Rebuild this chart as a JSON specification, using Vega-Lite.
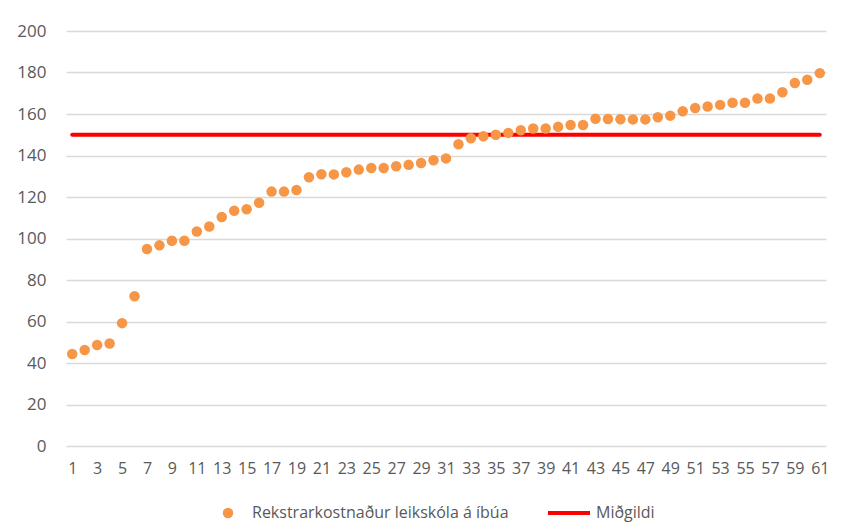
{
  "$schema": "https://vega.github.io/schema/vega-lite/v6.json",
  "width": 760,
  "height": 415,
  "autosize": {"type": "none"},
  "padding": {"left": 66, "top": 31, "right": 20, "bottom": 79},
  "background": "#FFFFFF",
  "config": {
    "view": {"stroke": null},
    "font": "Open Sans",
    "axis": {"labelFont": "Open Sans", "labelColor": "#595959", "labelFontSize": 16},
    "legend": {"labelFont": "Open Sans", "labelColor": "#595959", "labelFontSize": 16, "labelLimit": 500}
  },
  "data": {
    "values": [
      {"n": 1, "kostn": 44.3, "midgildi": 150},
      {"n": 2, "kostn": 46.3, "midgildi": 150},
      {"n": 3, "kostn": 48.7, "midgildi": 150},
      {"n": 4, "kostn": 49.4, "midgildi": 150},
      {"n": 5, "kostn": 59.2, "midgildi": 150},
      {"n": 6, "kostn": 72.2, "midgildi": 150},
      {"n": 7, "kostn": 94.9, "midgildi": 150},
      {"n": 8, "kostn": 96.7, "midgildi": 150},
      {"n": 9, "kostn": 98.9, "midgildi": 150},
      {"n": 10, "kostn": 98.9, "midgildi": 150},
      {"n": 11, "kostn": 103.4, "midgildi": 150},
      {"n": 12, "kostn": 105.8, "midgildi": 150},
      {"n": 13, "kostn": 110.4, "midgildi": 150},
      {"n": 14, "kostn": 113.4, "midgildi": 150},
      {"n": 15, "kostn": 114.1, "midgildi": 150},
      {"n": 16, "kostn": 117.2, "midgildi": 150},
      {"n": 17, "kostn": 122.6, "midgildi": 150},
      {"n": 18, "kostn": 122.6, "midgildi": 150},
      {"n": 19, "kostn": 123.4, "midgildi": 150},
      {"n": 20, "kostn": 129.5, "midgildi": 150},
      {"n": 21, "kostn": 131.0, "midgildi": 150},
      {"n": 22, "kostn": 130.9, "midgildi": 150},
      {"n": 23, "kostn": 131.9, "midgildi": 150},
      {"n": 24, "kostn": 133.2, "midgildi": 150},
      {"n": 25, "kostn": 134.0, "midgildi": 150},
      {"n": 26, "kostn": 134.0, "midgildi": 150},
      {"n": 27, "kostn": 134.8, "midgildi": 150},
      {"n": 28, "kostn": 135.5, "midgildi": 150},
      {"n": 29, "kostn": 136.4, "midgildi": 150},
      {"n": 30, "kostn": 137.7, "midgildi": 150},
      {"n": 31, "kostn": 138.6, "midgildi": 150},
      {"n": 32, "kostn": 145.4, "midgildi": 150},
      {"n": 33, "kostn": 148.3, "midgildi": 150},
      {"n": 34, "kostn": 149.3, "midgildi": 150},
      {"n": 35, "kostn": 150.0, "midgildi": 150},
      {"n": 36, "kostn": 150.9, "midgildi": 150},
      {"n": 37, "kostn": 152.2, "midgildi": 150},
      {"n": 38, "kostn": 153.0, "midgildi": 150},
      {"n": 39, "kostn": 153.0, "midgildi": 150},
      {"n": 40, "kostn": 153.8, "midgildi": 150},
      {"n": 41, "kostn": 154.7, "midgildi": 150},
      {"n": 42, "kostn": 154.7, "midgildi": 150},
      {"n": 43, "kostn": 157.7, "midgildi": 150},
      {"n": 44, "kostn": 157.6, "midgildi": 150},
      {"n": 45, "kostn": 157.5, "midgildi": 150},
      {"n": 46, "kostn": 157.4, "midgildi": 150},
      {"n": 47, "kostn": 157.4, "midgildi": 150},
      {"n": 48, "kostn": 158.4, "midgildi": 150},
      {"n": 49, "kostn": 159.2, "midgildi": 150},
      {"n": 50, "kostn": 161.3, "midgildi": 150},
      {"n": 51, "kostn": 162.9, "midgildi": 150},
      {"n": 52, "kostn": 163.6, "midgildi": 150},
      {"n": 53, "kostn": 164.4, "midgildi": 150},
      {"n": 54, "kostn": 165.4, "midgildi": 150},
      {"n": 55, "kostn": 165.4, "midgildi": 150},
      {"n": 56, "kostn": 167.5, "midgildi": 150},
      {"n": 57, "kostn": 167.5, "midgildi": 150},
      {"n": 58, "kostn": 170.5, "midgildi": 150},
      {"n": 59, "kostn": 174.9, "midgildi": 150},
      {"n": 60, "kostn": 176.5, "midgildi": 150},
      {"n": 61, "kostn": 179.7, "midgildi": 150}
    ]
  },
  "encoding": {
    "x": {
      "field": "n",
      "type": "ordinal",
      "axis": {
        "title": null,
        "labelAngle": 0,
        "labelOverlap": false,
        "labelExpr": "datum.value % 2 == 1 ? datum.label : ''",
        "ticks": false,
        "domain": false,
        "grid": false,
        "labelPadding": 14
      }
    }
  },
  "layer": [
    {
      "mark": {"type": "line", "strokeWidth": 4, "strokeCap": "round"},
      "encoding": {
        "y": {
          "field": "midgildi",
          "type": "quantitative",
          "scale": {"domain": [0, 200], "nice": false},
          "axis": {
            "title": null,
            "values": [0, 20, 40, 60, 80, 100, 120, 140, 160, 180, 200],
            "grid": true,
            "gridColor": "#D9D9D9",
            "gridWidth": 1.3,
            "ticks": false,
            "domain": false,
            "labelPadding": 20,
            "labelFontSize": 17
          }
        },
        "stroke": {
          "datum": "Miðgildi",
          "scale": {"range": ["#FF0000"]},
          "legend": {
            "title": null,
            "orient": "none",
            "legendX": 480,
            "legendY": 459,
            "padding": 0,
            "symbolType": "stroke",
            "symbolSize": 1764,
            "symbolStrokeWidth": 4,
            "labelOffset": 4
          }
        }
      }
    },
    {
      "mark": {"type": "point", "filled": true, "size": 110, "opacity": 1},
      "encoding": {
        "y": {"field": "kostn", "type": "quantitative"},
        "fill": {
          "datum": "Rekstrarkostnaður leikskóla á íbúa",
          "scale": {"range": ["#F79646"]},
          "legend": {
            "title": null,
            "orient": "none",
            "legendX": 154,
            "legendY": 474,
            "padding": 0,
            "symbolType": "circle",
            "symbolSize": 110,
            "labelOffset": 16
          }
        }
      }
    }
  ]
}
